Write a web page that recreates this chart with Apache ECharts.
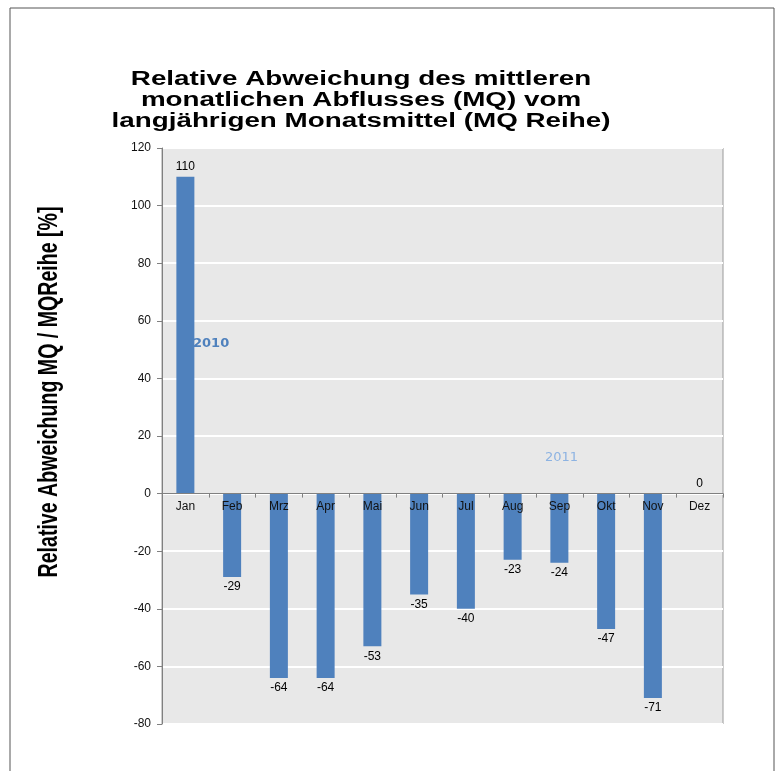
<!DOCTYPE html>
<html>
<head>
<meta charset="utf-8">
<script src="https://cdn.jsdelivr.net/npm/echarts@6/dist/echarts.min.js"></script>
<style>
  html, body { margin: 0; padding: 0; background: #fff; }
  #chart { width: 782px; height: 771px; }
</style>
</head>
<body>
<div id="chart"></div>
<script>
// Monate und Abweichungen in %
var months = ['Jan', 'Feb', 'Mrz', 'Apr', 'Mai', 'Jun', 'Jul', 'Aug', 'Sep', 'Okt', 'Nov', 'Dez'];
var deviation = [110, -29, -64, -64, -53, -35, -40, -23, -24, -47, -71, 0];
var yTicks = { min: -80, max: 120, step: 20 };

var chart = echarts.init(document.getElementById('chart'));

// negative Balken bekommen das Label unten
var barData = deviation.map(function (v) {
  return {
    value: v,
    label: { position: v < 0 ? 'bottom' : 'top' }
  };
});

var gridTop = 148, gridBottom = 47;
var plotH = 771 - gridTop - gridBottom;
// x-Achse auf die Nulllinie schieben
var zeroOffset = plotH * (0 - yTicks.min) / (yTicks.max - yTicks.min);

var option = {
  backgroundColor: '#fff',
  grid: {
    left: 162,
    right: 59,
    top: gridTop,
    bottom: gridBottom,
    show: true,
    backgroundColor: '#e8e8e8',
    borderColor: '#9a9a9a',
    borderWidth: 1
  },
  xAxis: {
    type: 'category',
    data: months,
    offset: -zeroOffset,
    z: 5,
    axisLine: { onZero: false, lineStyle: { color: '#808080', width: 1 } },
    axisTick: { show: true, length: 4, lineStyle: { color: '#808080' } },
    axisLabel: {
      color: '#111',
      fontSize: 12,
      fontFamily: 'Liberation Sans, Arial, sans-serif',
      margin: 7
    },
    splitLine: { show: false }
  },
  yAxis: {
    type: 'value',
    min: yTicks.min,
    max: yTicks.max,
    interval: yTicks.step,
    axisLine: { show: true, lineStyle: { color: '#808080' } },
    axisTick: { show: true, length: 5, lineStyle: { color: '#808080' } },
    axisLabel: {
      color: '#111',
      fontSize: 12,
      fontFamily: 'Liberation Sans, Arial, sans-serif',
      margin: 11
    },
    splitLine: { show: true, lineStyle: { color: '#fff', width: 2 } }
  },
  series: [{
    type: 'bar',
    data: barData,
    barWidth: 18,
    z: 2,
    itemStyle: { color: '#4f81bd' },
    label: {
      show: true,
      color: '#000',
      fontSize: 12,
      fontFamily: 'Liberation Sans, Arial, sans-serif',
      distance: 4
    }
  }],
  graphic: [
    {
      type: 'rect',
      shape: { x: 10, y: 8, width: 764, height: 800 },
      style: { fill: 'none', stroke: '#555', lineWidth: 1 },
      silent: true
    },
    {
      // Titel, breit gezogen wie im Original
      type: 'text',
      x: 361,
      y: 69,
      scaleX: 1.39,
      style: {
        text: 'Relative Abweichung des mittleren\nmonatlichen Abflusses (MQ) vom\nlangjährigen Monatsmittel (MQ Reihe)',
        align: 'center',
        verticalAlign: 'top',
        lineHeight: 21,
        fill: '#000',
        font: 'bold 20px "Liberation Sans", Arial, sans-serif'
      }
    },
    {
      // Achsentitel, schmal
      type: 'text',
      x: 50,
      y: 392,
      rotation: Math.PI / 2,
      scaleX: 0.725,
      style: {
        text: 'Relative Abweichung MQ / MQReihe [%]',
        align: 'center',
        verticalAlign: 'middle',
        fill: '#000',
        font: 'bold 27px "Liberation Sans", Arial, sans-serif'
      }
    },
    {
      type: 'text',
      left: 193,
      top: 337,
      style: {
        text: '2010',
        fill: '#4f81bd',
        font: 'bold 13px "DejaVu Sans", sans-serif'
      }
    },
    {
      type: 'text',
      left: 545,
      top: 451,
      style: {
        text: '2011',
        fill: '#8db3e2',
        font: '13px "DejaVu Sans", sans-serif'
      }
    }
  ]
};

chart.setOption(option);
</script>
</body>
</html>
